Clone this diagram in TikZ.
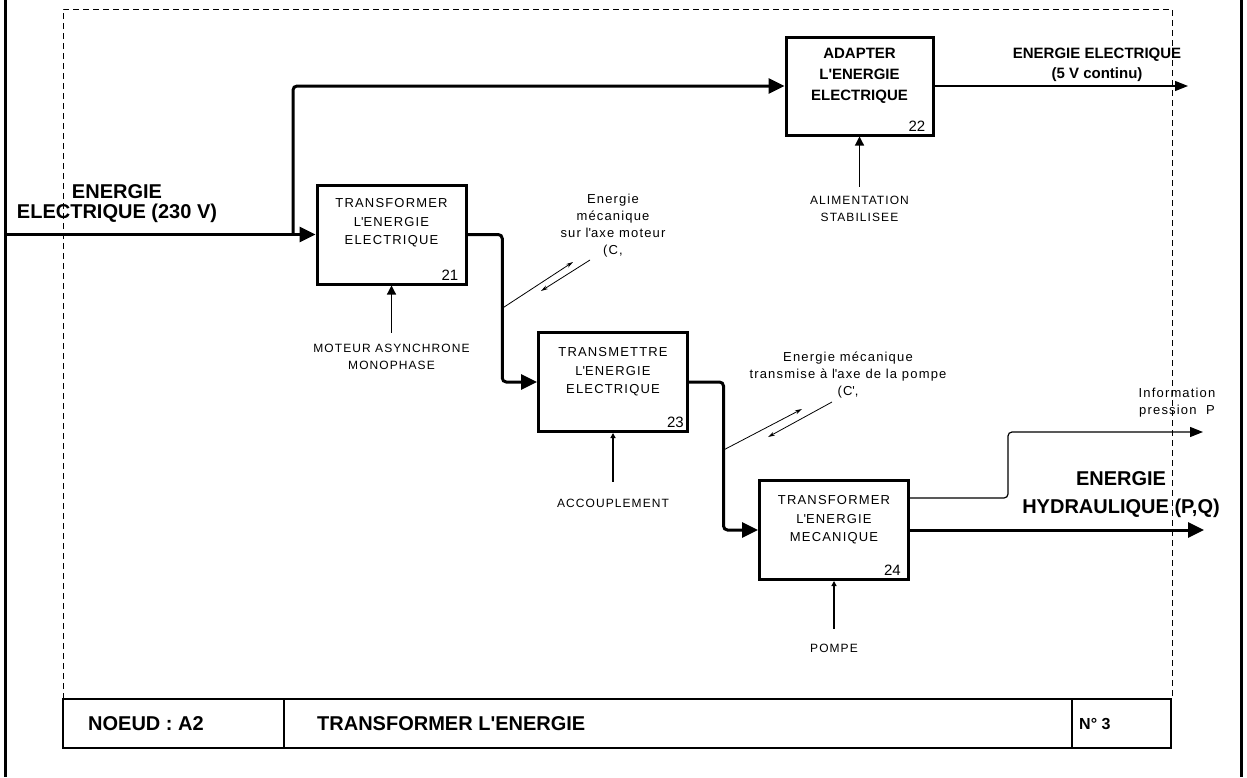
\documentclass[tikz,border=0pt]{standalone}
\usepackage{fontspec}
\setmainfont{Liberation Sans}
\newfontfamily\spaced{Liberation Sans}[LetterSpace=9]
\usepackage{tikz}
\usetikzlibrary{arrows.meta, calc}
\newcommand{\aq}{\textquotesingle}

\begin{document}
\begin{tikzpicture}[
    % GLOBAL CFG
    x=1pt, y=-1pt,
    % Styles
    bloc/.style={% For the function boxes
        rectangle,
        draw,
        line width=3pt,
        minimum width=149pt,
        minimum height=99pt,
        },
    bloctxt/.style={% Text inside a box
        align=center,
        font=\spaced\fontsize{13}{18.5}\selectfont,
        yshift=10pt,
        },
    bloctxtb/.style={% Bold text inside a box
        align=center,
        font=\bfseries\fontsize{15}{21}\selectfont,
        yshift=10pt,
        },
    num/.style={% Box numbers
        anchor=south east,
        inner xsep=9pt,
        inner ysep=5pt,
        font=\fontsize{15}{15}\selectfont,
        },
    mech/.style={% Supports under the boxes
        align=center,
        inner ysep=10pt,
        font=\spaced\fontsize{12}{17}\selectfont,
        },
    note/.style={% Small lower case labels
        align=center,
        font=\spaced\fontsize{13}{17}\selectfont,
        },
    big/.style={% Big bold flow labels
        align=center,
        font=\bfseries\fontsize{20}{20}\selectfont,
        },
    tcell/.style={% Cells of the title block
        rectangle,
        draw,
        line width=1.5pt,
        outer sep=0pt,
        minimum height=49pt,
        anchor=north west,
        },
    ttl/.style={% Title block texts
        anchor=west,
        inner sep=0pt,
        font=\bfseries\fontsize{20}{20}\selectfont,
        },
    ArrowThick/.style={% Main flows
        line width=3pt,
        rounded corners=4pt,
        -{Triangle[length=16pt,width=15pt]},
        },
    ArrowThin/.style={% Thin flows
        line width=1.2pt,
        rounded corners=4pt,
        -{Triangle[length=13pt,width=10pt]},
        },
    ArrowCtrl/.style={% Supports
        line width=1.2pt,
        -{Triangle[length=9pt,width=9pt]},
        },
    ArrowTiny/.style={% Supports with a small tip
        line width=1.2pt,
        -{Triangle[length=5pt,width=5pt]},
        },
    squig/.style={% Label links
        line width=0.8pt,
        -{Stealth[length=7pt,width=4pt]},
        },
    ]

    \useasboundingbox (0,0) rectangle (1247,777);

    % Outer frame and dashed frame
    \draw[line width=3pt] (5,0) -- (5,777);
    \draw[line width=3pt] (1241.5,0) -- (1241.5,777);
    \draw[line width=1pt, dash pattern=on 6pt off 4pt] (63,699) |- (1172,9) -- (1172,699);

    % Draw the boxes named box#
    \node[bloc] (box21) at (391.5,234.5) {};
    \node[bloc, minimum width=147pt, minimum height=98pt] (box22) at (859.5,86) {};
    \node[bloc] (box23) at (613,382) {};
    \node[bloc] (box24) at (834,530) {};

    \node[bloctxt, yshift=1.5pt] (t21) at (box21) {TRANSFORMER\\L\aq ENERGIE\\ELECTRIQUE};
    \node[bloctxtb] (t22) at (box22) {ADAPTER\\L\aq ENERGIE\\ELECTRIQUE};
    \node[bloctxt] (t23) at (box23) {TRANSMETTRE\\L\aq ENERGIE\\ELECTRIQUE};
    \node[bloctxt] (t24) at (box24) {TRANSFORMER\\L\aq ENERGIE\\MECANIQUE};

    \node[num] (n21) at (box21.south east) {21};
    \node[num] (n22) at (box22.south east) {22};
    \node[num, inner xsep=5pt] (n23) at (box23.south east) {23};
    \node[num] (n24) at (box24.south east) {24};

    % Supports
    \node[mech, inner ysep=11pt] (moteur) at (391.5,356.5) {MOTEUR ASYNCHRONE\\MONOPHASE};
    \node[mech, inner ysep=9pt] (alim) at (859.5,208.5) {ALIMENTATION\\STABILISEE};
    \node[mech, inner ysep=17pt] (accoup) at (613,503) {ACCOUPLEMENT};
    \node[mech, inner ysep=15pt] (pompe) at (834,648) {POMPE};

    % Flow labels
    \node[big] (in230) at (117,204) {ENERGIE\\ELECTRIQUE (230 V)};
    \node[big, font=\bfseries\fontsize{15}{20}\selectfont] (out5) at (1097,65) {ENERGIE ELECTRIQUE\\(5 V continu)};
    \node[big, font=\bfseries\fontsize{20}{28}\selectfont] (hydro) at (1121,495) {ENERGIE\\HYDRAULIQUE (P,Q)};
    \node[note] (info) at (1177,403) {Information\\pression~ P};
    \node[note] (meca1) at (613,226) {Energie\\mécanique\\sur l\aq axe moteur\\(C,};
    \node[note] (meca2) at (848,375) {Energie mécanique\\transmise à l\aq axe de la pompe\\(C\aq,};

    % Free ends of the flows
    \coordinate (in) at (5,234.5);
    \coordinate (split) at (293,234.5);
    \coordinate (out5v) at (1188,86);
    \coordinate (hydout) at (1204,530);
    \coordinate (infobend) at (1008,432);
    \coordinate (infoout) at (1203,432);
    \coordinate (j1) at ($(box21.east)!0.5!(box23.west)$);
    \coordinate (j2) at ($(box23.east)!0.5!(box24.west)$);
    \coordinate (sq1a) at (573,262);
    \coordinate (sq1b) at (590,260);
    \coordinate (sq1c) at (541,291);
    \coordinate (sq2a) at (802,409);
    \coordinate (sq2b) at (832,402);
    \coordinate (sq2c) at (768,437);

    % Flows
    \draw[ArrowThick] (in) -- (box21.west);
    \draw[ArrowThick] (split) |- (box22.west);
    \draw[ArrowThick] (box21.east) -| (j1) |- (box23.west);
    \draw[ArrowThick] (box23.east) -| (j2) |- (box24.west);
    \draw[ArrowThick] (box24.east) -- (hydout);
    \draw[ArrowThin] (box22.east) -- (out5v);
    \draw[ArrowThin] ($(box24.east)+(0,-32)$) -| (infobend) -- (infoout);

    % Supports
    \draw[ArrowCtrl] (moteur.north) -- (box21.south);
    \draw[ArrowCtrl] (alim.north) -- (box22.south);
    \draw[ArrowTiny] (accoup.north) -- (box23.south);
    \draw[ArrowTiny] (pompe.north) -- (box24.south);

    % Label links
    \draw[squig] (j1) -- (sq1a);
    \draw[squig] (sq1b) -- (sq1c);
    \draw[squig] ($(j2)+(0,-6)$) -- (sq2a);
    \draw[squig] (sq2b) -- (sq2c);

    % Title block
    \node[tcell, minimum width=221pt] (cellA) at (63,699) {};
    \node[tcell, minimum width=788pt] (cellB) at (cellA.north east) {};
    \node[tcell, minimum width=99pt] (cellC) at (cellB.north east) {};
    \node[ttl] (noeud) at (88,723.5) {NOEUD : A2};
    \node[ttl] (titre) at (317,723.5) {TRANSFORMER L\aq ENERGIE};
    \node[ttl, font=\bfseries\fontsize{16}{16}\selectfont] (numero) at (1079,723.5) {N° 3};

\end{tikzpicture}
\end{document}
